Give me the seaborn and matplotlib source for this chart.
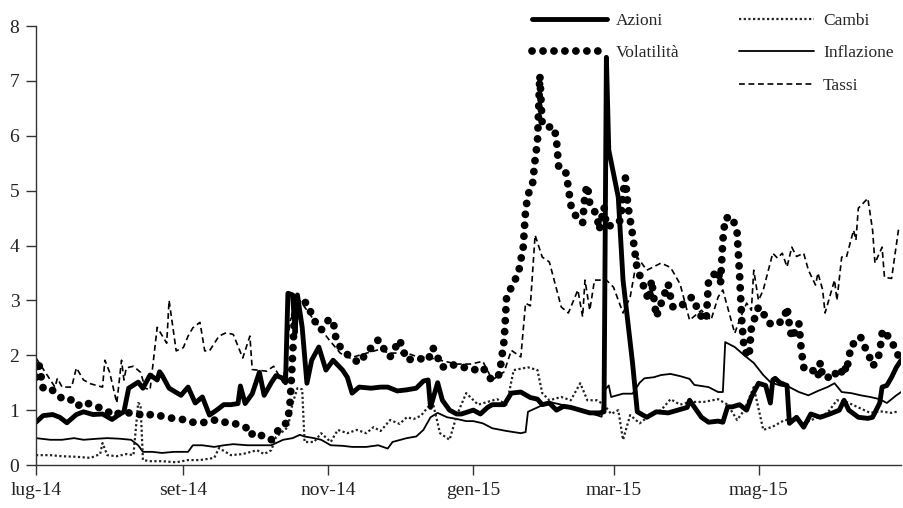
import pandas as pd
import matplotlib
matplotlib.use('Agg')
import matplotlib.pyplot as plt
import seaborn as sns
from matplotlib.lines import Line2D

### dati (giorni dal 1 luglio 2014, valori) ###
inizio = pd.Timestamp('2014-07-01')

az_giorni = [0, 3, 7, 10, 13, 17, 20, 24, 28, 32, 35, 37, 39, 43, 45, 48, 51, 52, 53, 56,
             61, 64, 67, 70, 73, 76, 79, 82, 85, 86, 88, 91, 94, 96, 99, 101, 104, 105,
             106, 108, 109, 110, 112, 114, 116, 119, 122, 125, 129, 131, 133, 136, 141,
             145, 148, 152, 156, 160, 163, 165, 166, 169, 171, 174, 177, 179, 184, 187,
             190, 192, 197, 200, 204, 208, 211, 213, 216, 219, 222, 225, 229, 233, 237,
             239, 240, 241, 245, 247, 251, 253, 257, 261, 266, 270, 274, 275, 280, 283,
             287, 289, 291, 293, 296, 299, 301, 304, 307, 309, 310, 311, 313, 316, 317,
             320, 323, 326, 330, 334, 338, 340, 342, 346, 350, 352, 355, 356, 358, 360,
             362, 364]
az_val = [0.78, 0.9, 0.92, 0.87, 0.77, 0.92, 0.97, 0.92, 0.93, 0.83, 0.92, 0.97, 1.4, 1.51,
          1.4, 1.64, 1.55, 1.7, 1.64, 1.4, 1.27, 1.42, 1.13, 1.24, 0.91, 1.0, 1.1, 1.1, 1.12,
          1.44, 1.12, 1.3, 1.69, 1.27, 1.5, 1.63, 1.58, 1.5, 3.13, 3.1, 2.4, 3.1, 2.51, 1.49,
          1.91, 2.15, 1.73, 1.91, 1.73, 1.6, 1.31, 1.42, 1.4, 1.42, 1.42, 1.35, 1.37, 1.4,
          1.53, 1.55, 1.05, 1.5, 1.18, 1.0, 0.93, 0.93, 1.0, 0.93, 1.05, 1.1, 1.1, 1.31, 1.33,
          1.23, 1.2, 1.1, 1.13, 1.0, 1.07, 1.05, 1.0, 0.95, 0.95, 0.97, 7.43, 5.74, 4.88, 3.37,
          1.86, 0.97, 0.87, 0.97, 0.95, 1.0, 1.05, 1.18, 0.87, 0.78, 0.8, 0.78, 1.06, 1.06,
          1.1, 1.0, 1.24, 1.49, 1.45, 1.13, 1.55, 1.58, 1.5, 1.45, 0.76, 0.87, 0.69, 0.93,
          0.87, 0.93, 1.0, 1.18, 1.0, 0.87, 0.85, 0.87, 1.13, 1.42, 1.45, 1.6, 1.78, 1.91]

vol_giorni = [0, 1, 3, 6, 10, 13, 16, 18, 20, 24, 27, 30, 33, 35, 40, 43, 46, 49, 52, 55,
              59, 64, 66, 70, 75, 77, 82, 86, 89, 90, 93, 96, 99, 101, 104, 106, 107, 108,
              109, 111, 114, 117, 120, 123, 125, 126, 128, 132, 136, 139, 144, 146, 149,
              153, 156, 160, 165, 167, 171, 174, 180, 184, 188, 191, 193, 195, 197, 198,
              203, 205, 206, 207, 209, 210, 211, 212, 213, 216, 218, 219, 220, 223, 224,
              225, 227, 230, 231, 232, 233, 236, 237, 239, 240, 243, 246, 247, 248, 249,
              251, 253, 255, 256, 258, 259, 261, 266, 267, 268, 271, 274, 276, 278, 280,
              282, 283, 287, 288, 289, 290, 293, 295, 296, 297, 298, 300, 301, 304, 307,
              308, 310, 313, 315, 316, 317, 318, 321, 322, 323, 325, 327, 329, 330, 331,
              334, 336, 337, 339, 340, 341, 343, 346, 347, 348, 350, 352, 354, 355, 356,
              357, 359, 360, 362, 363]
vol_val = [1.6, 1.9, 1.4, 1.4, 1.24, 1.17, 1.2, 1.09, 1.15, 1.09, 1.04, 0.98, 0.9, 0.95,
           0.95, 0.93, 0.89, 0.93, 0.9, 0.87, 0.84, 0.82, 0.78, 0.77, 0.82, 0.78, 0.78, 0.72,
           0.67, 0.55, 0.6, 0.5, 0.46, 0.6, 0.69, 0.82, 1.18, 2.04, 2.88, 3.0, 2.95, 2.64,
           2.46, 2.64, 2.64, 2.35, 2.15, 1.97, 1.86, 2.04, 2.28, 2.14, 1.97, 2.28, 1.91, 1.95,
           1.91, 2.14, 1.78, 1.84, 1.78, 1.73, 1.78, 1.58, 1.55, 1.66, 2.28, 3.06, 3.5, 3.97,
           4.64, 4.92, 5.15, 5.56, 5.9, 7.1, 6.2, 6.16, 6.16, 5.92, 5.4, 5.32, 5.06, 4.74,
           4.55, 4.41, 4.95, 5.1, 4.77, 4.55, 4.28, 4.7, 4.35, 4.37, 4.46, 4.95, 5.23, 4.74,
           4.2, 3.55, 3.37, 3.19, 3.0, 3.37, 2.7, 3.3, 3.06, 2.88, 2.88, 3.0, 3.06, 2.88, 2.7,
           2.64, 3.37, 3.55, 3.3, 4.1, 4.5, 4.52, 4.23, 3.5, 2.6, 2.09, 1.97, 2.5, 2.88, 2.7,
           2.6, 2.55, 2.6, 2.7, 2.88, 2.55, 2.31, 2.58, 2.1, 1.78, 1.7, 1.72, 1.6, 1.87, 1.6,
           1.6, 1.7, 1.6, 1.7, 1.82, 1.7, 2.19, 2.25, 2.33, 2.2, 2.06, 1.8, 1.91, 2.06, 2.4,
           2.46, 2.3, 2.26, 2.06, 1.98]

cam_giorni = [0, 6, 11, 17, 23, 27, 28, 30, 34, 38, 41, 43, 44, 45, 48, 53, 59, 64, 69, 75,
              77, 82, 87, 93, 96, 99, 101, 106, 108, 110, 112, 113, 117, 120, 124, 127, 131,
              135, 139, 142, 145, 149, 153, 156, 159, 162, 165, 167, 170, 174, 177, 181, 186,
              190, 194, 198, 201, 207, 211, 213, 216, 221, 225, 229, 232, 236, 239, 242, 245,
              247, 250, 254, 259, 263, 267, 271, 275, 281, 287, 291, 295, 298, 302, 306, 310,
              315, 320, 323, 329, 333, 337, 341, 346, 351, 355, 360, 363]
cam_val = [0.18, 0.18, 0.16, 0.15, 0.13, 0.2, 0.4, 0.18, 0.16, 0.2, 0.18, 1.13, 1.1, 0.09,
           0.07, 0.07, 0.05, 0.09, 0.09, 0.13, 0.31, 0.18, 0.2, 0.27, 0.2, 0.27, 0.51, 0.69,
           1.13, 1.4, 1.38, 0.42, 0.42, 0.58, 0.42, 0.64, 0.58, 0.64, 0.58, 0.69, 0.62, 0.82,
           0.75, 0.87, 0.84, 0.9, 1.06, 1.13, 0.58, 0.46, 0.9, 1.31, 1.1, 1.15, 1.2, 1.1, 1.73,
           1.78, 1.73, 1.31, 1.18, 1.24, 1.18, 1.49, 1.18, 1.18, 1.1, 0.93, 1.0, 0.46, 0.91,
           0.76, 0.93, 1.0, 1.2, 1.1, 1.15, 1.15, 1.2, 1.1, 0.82, 1.0, 1.42, 0.64, 0.7, 0.82,
           0.82, 0.76, 0.87, 0.95, 1.18, 1.15, 1.05, 0.95, 0.98, 0.95, 0.98]

inf_giorni = [0, 6, 11, 16, 20, 26, 30, 35, 40, 43, 45, 49, 53, 58, 64, 66, 70, 75, 79, 83,
              89, 94, 99, 104, 108, 111, 113, 117, 120, 124, 129, 133, 139, 144, 148, 150,
              156, 160, 163, 166, 169, 173, 177, 181, 184, 188, 192, 198, 204, 206, 207, 211,
              216, 221, 225, 229, 233, 238, 239, 241, 242, 247, 251, 254, 256, 260, 263, 267,
              271, 275, 277, 283, 287, 289, 290, 294, 298, 302, 306, 309, 313, 317, 321, 325,
              329, 333, 336, 339, 343, 347, 351, 355, 358, 362, 364]
inf_val = [0.49, 0.46, 0.46, 0.49, 0.46, 0.48, 0.49, 0.48, 0.46, 0.36, 0.24, 0.24, 0.22, 0.24,
           0.24, 0.36, 0.36, 0.33, 0.36, 0.38, 0.36, 0.36, 0.36, 0.46, 0.49, 0.55, 0.52, 0.49,
           0.46, 0.36, 0.35, 0.33, 0.33, 0.36, 0.3, 0.42, 0.49, 0.52, 0.64, 0.87, 0.95, 0.87,
           0.84, 0.8, 0.8, 0.76, 0.67, 0.62, 0.58, 0.6, 0.97, 1.05, 1.15, 1.1, 1.05, 1.0, 0.95,
           0.88, 1.35, 1.45, 1.24, 1.3, 1.3, 1.5, 1.58, 1.6, 1.64, 1.66, 1.62, 1.57, 1.46, 1.42,
           1.33, 1.33, 2.24, 2.15, 2.0, 1.86, 1.64, 1.51, 1.45, 1.42, 1.33, 1.27, 1.35, 1.42,
           1.49, 1.33, 1.31, 1.27, 1.24, 1.2, 1.13, 1.27, 1.33]

tas_giorni = [0, 8, 9, 11, 15, 17, 20, 23, 28, 29, 31, 34, 36, 37, 38, 41, 44, 46, 48, 51,
              55, 56, 59, 62, 64, 66, 69, 71, 73, 77, 80, 83, 87, 90, 91, 93, 97, 100, 104,
              107, 111, 116, 123, 128, 132, 136, 144, 149, 156, 160, 166, 171, 177, 183, 188,
              192, 197, 200, 204, 206, 208, 210, 213, 216, 221, 224, 228, 230, 231, 233, 235,
              238, 240, 243, 247, 250, 253, 257, 263, 267, 271, 275, 280, 284, 287, 289, 294,
              296, 299, 301, 302, 304, 306, 310, 312, 314, 316, 318, 320, 323, 325, 328, 329,
              331, 332, 336, 337, 339, 341, 344, 345, 346, 350, 352, 353, 356, 357, 360, 363]
tas_val = [1.95, 1.42, 1.58, 1.42, 1.42, 1.77, 1.55, 1.48, 1.42, 1.91, 1.69, 1.13, 1.91, 1.55,
           1.77, 1.8, 1.69, 1.4, 1.37, 2.51, 2.22, 3.0, 2.08, 2.14, 2.35, 2.5, 2.6, 2.08, 2.08,
           2.35, 2.41, 2.38, 1.95, 2.35, 1.74, 1.73, 1.71, 1.8, 1.5, 2.64, 3.0, 2.7, 2.3, 2.04,
           1.95, 2.0, 2.1, 2.04, 2.04, 1.98, 1.95, 1.9, 1.84, 1.84, 1.89, 1.55, 1.7, 2.09, 1.97,
           2.95, 2.9, 4.19, 3.79, 3.7, 2.88, 2.77, 3.19, 2.7, 3.37, 2.82, 3.37, 3.37, 3.37,
           3.24, 2.77, 3.06, 3.79, 3.55, 3.68, 3.6, 3.3, 2.64, 2.82, 2.64, 3.06, 3.19, 2.4,
           2.64, 2.95, 2.82, 3.55, 3.0, 3.19, 3.86, 3.77, 3.86, 3.61, 3.97, 3.8, 3.86, 3.55,
           3.28, 3.5, 3.19, 2.77, 3.37, 3.0, 3.79, 3.79, 4.28, 4.1, 4.68, 4.86, 4.28, 3.68,
           3.97, 3.42, 3.4, 4.32]

tick_date = ['2014-07-01', '2014-09-01', '2014-11-01', '2015-01-01', '2015-03-01', '2015-05-01']
tick_lab = ['lug-14', 'set-14', 'nov-14', 'gen-15', 'mar-15', 'mag-15']


def to_dates(giorni):
    return inizio + pd.to_timedelta(giorni, unit='D')


### grafico ###
sns.set_style('ticks')
plt.rcParams['font.family'] = ['Liberation Serif', 'DejaVu Serif']

fig = plt.figure(figsize=(9.04, 5.08), dpi=100)
ax = fig.add_axes([0.0398, 0.0846, 0.9570, 0.8642])

nero = '#000000'
sns.lineplot(x=to_dates(tas_giorni), y=tas_val, ax=ax, color=nero, lw=1.2,
             linestyle=(0, (3.5, 2.2)), estimator=None, label='Tassi')
sns.lineplot(x=to_dates(inf_giorni), y=inf_val, ax=ax, color=nero, lw=1.3,
             estimator=None, label='Inflazione')
sns.lineplot(x=to_dates(cam_giorni), y=cam_val, ax=ax, color='#222222', lw=1.6,
             linestyle=(0, (1, 1.1)), estimator=None, label='Cambi')
sns.lineplot(x=to_dates(vol_giorni), y=vol_val, ax=ax, color=nero, lw=5.6,
             linestyle=(0, (0.01, 1.4)), dash_capstyle='round', estimator=None,
             label='Volatilità')
sns.lineplot(x=to_dates(az_giorni), y=az_val, ax=ax, color=nero, lw=3.5,
             solid_joinstyle='round', estimator=None, label='Azioni')

ax.set_xlim(inizio, pd.Timestamp('2015-06-30'))
ax.set_ylim(0, 8)
ax.set_xticks(pd.to_datetime(tick_date))
ax.set_xticklabels(tick_lab)
ax.set_yticks(range(0, 9))
ax.set_xlabel('')
ax.set_ylabel('')
sns.despine(ax=ax)
for s in ['left', 'bottom']:
    ax.spines[s].set_color('#333333')
    ax.spines[s].set_linewidth(1.0)
ax.tick_params(axis='both', length=7, width=1.0, color='#333333', labelsize=14,
               labelcolor='#222222', pad=5)

# legenda: due colonne, la prima con due voci
linee = {l.get_label(): l for l in ax.get_lines()}
vuoto = Line2D([], [], linestyle='none')
handles = [linee['Azioni'], linee['Volatilità'], vuoto,
           linee['Cambi'], linee['Inflazione'], linee['Tassi']]
labels = ['Azioni', 'Volatilità', ' ', 'Cambi', 'Inflazione', 'Tassi']
ax.legend(handles, labels, ncol=2, frameon=False, fontsize=12.5,
          loc='upper left', bbox_to_anchor=(0.5885, 0.975),
          bbox_transform=fig.transFigure, borderpad=0, borderaxespad=0,
          handlelength=4.3, handletextpad=0.55, columnspacing=3.4,
          labelspacing=0.95)

fig.savefig('out.png', dpi=100)
